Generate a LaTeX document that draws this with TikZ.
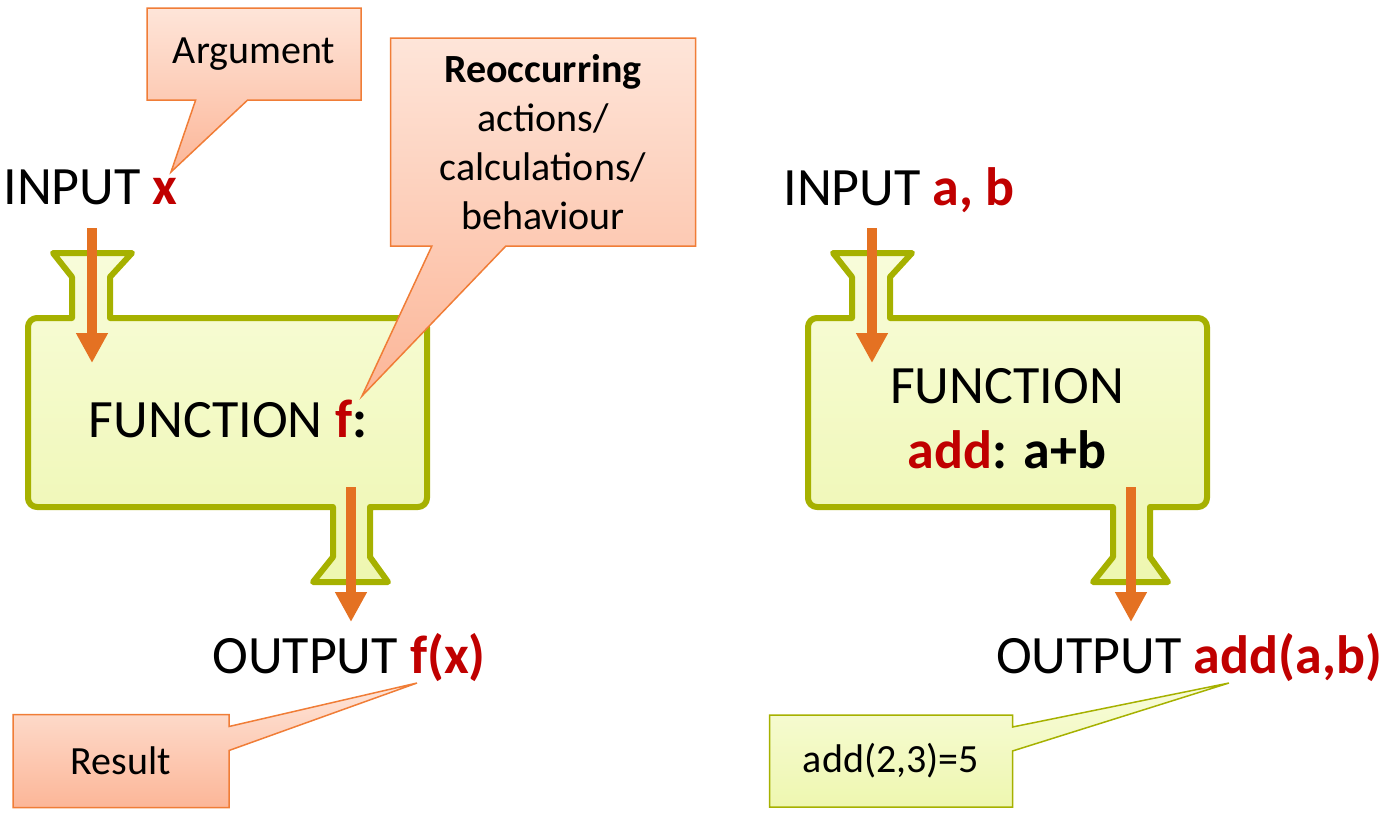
\documentclass[tikz,border=0pt]{standalone}
\usepackage{fontspec}
\setmainfont{Carlito}
\usepackage{tikz}
\usetikzlibrary{arrows.meta,shapes.callouts,positioning}

\definecolor{fred}{RGB}{192,0,0}
\definecolor{forange}{RGB}{228,113,34}
\definecolor{folive}{RGB}{166,177,0}
\definecolor{flimetop}{RGB}{248,252,218}
\definecolor{flimebot}{RGB}{238,247,176}
\definecolor{fpeachtop}{RGB}{254,229,217}
\definecolor{fpeachbot}{RGB}{252,182,152}
\definecolor{fpeachline}{RGB}{240,125,55}

\newcommand{\var}[1]{\textcolor{fred}{\textbf{#1}}}

\begin{document}
\begin{tikzpicture}[x=0.5pt, y=-0.5pt, >={Triangle[width=15pt,length=15pt]},
    bigtext/.style={font=\fontsize{27}{32.5}\selectfont, inner sep=0pt},
    flow/.style={->, draw=forange, line width=5pt},
    funcbox/.style={draw=folive, line width=3pt, line join=round, top color=flimetop, bottom color=flimebot},
    note/.style={rectangle callout, font=\fontsize{20}{24.4}\selectfont, align=center, inner sep=0pt, line width=0.75pt},
    peachnote/.style={note, draw=fpeachline, top color=fpeachtop, bottom color=fpeachbot},
    limenote/.style={note, draw=folive, top color=flimetop, bottom color=flimebot}]

    \useasboundingbox (0,0) rectangle (1389,825);

    % the two function boxes with their funnels
    \foreach \dx in {0,390} {
      \begin{scope}[xshift=\dx pt]
        \draw[funcbox] (72,318) -- (72,277) -- (53,253) -- (132,253) -- (110,277) -- (110,318)
          -- (418,318) arc[start angle=-90, end angle=0, radius=9]
          -- (427,498) arc[start angle=0, end angle=90, radius=9]
          -- (370,507) -- (370,557) -- (388,582) -- (313,582) -- (333,557) -- (333,507)
          -- (37,507) arc[start angle=90, end angle=180, radius=9]
          -- (28,327) arc[start angle=180, end angle=270, radius=9]
          -- cycle;
      \end{scope}
    }

    \node[bigtext, anchor=base west] (input-x)    at (3,204)    {INPUT \var{x}};
    \node[bigtext, anchor=base]      (func-f)     at (228,437)  {FUNCTION \var{f}\textbf{:}};
    \node[bigtext, anchor=base]      (output-f)   at (349,673)  {OUTPUT \var{f(x)}};
    \node[bigtext, anchor=base west] (input-ab)   at (783,205)  {INPUT \var{a, b}};
    \node[bigtext, align=center]     (func-add)   at (1007,419) {FUNCTION\\\var{add}\textbf{: a+b}};
    \node[bigtext, anchor=base]      (output-add) at (1189,673) {OUTPUT \var{add(a,b)}};

    \coordinate (f-in-a)   at (92,228);
    \coordinate (f-in-b)   at (92,363);
    \coordinate (f-out-a)  at (351,487);
    \coordinate (f-out-b)  at (351,622);
    \coordinate (add-in-a)  at (872,228);
    \coordinate (add-in-b)  at (872,363);
    \coordinate (add-out-a) at (1131,487);
    \coordinate (add-out-b) at (1131,622);

    \draw[flow] (f-in-a) -- (f-in-b);
    \draw[flow] (f-out-a) -- (f-out-b);
    \draw[flow] (add-in-a) -- (add-in-b);
    \draw[flow] (add-out-a) -- (add-out-b);

    % callouts
    \coordinate (arg-tip)    at (171,172);
    \coordinate (reoc-tip)   at (362,396);
    \coordinate (result-tip) at (417,683);
    \coordinate (sum-tip)    at (1229,683);

    \node[peachnote, minimum width=107pt, minimum height=46pt,
          callout absolute pointer={(arg-tip)}, callout pointer width=26pt] (argument) at (254,54) {Argument};
    \node[peachnote, minimum width=152.5pt, minimum height=104pt,
          callout absolute pointer={(reoc-tip)}, callout pointer width=37pt] (reoccurring) at (543,142)
          {\textbf{Reoccurring}\\actions/\\calculations/\\behaviour};
    \node[peachnote, minimum width=108pt, minimum height=46.5pt,
          callout absolute pointer={(result-tip)}, callout pointer width=12pt] (result) at (121,761) {Result};
    \node[limenote, minimum width=121.5pt, minimum height=46pt,
          callout absolute pointer={(sum-tip)}, callout pointer width=12pt] (sum) at (891,761) {add(2,3)=5};

\end{tikzpicture}
\end{document}
